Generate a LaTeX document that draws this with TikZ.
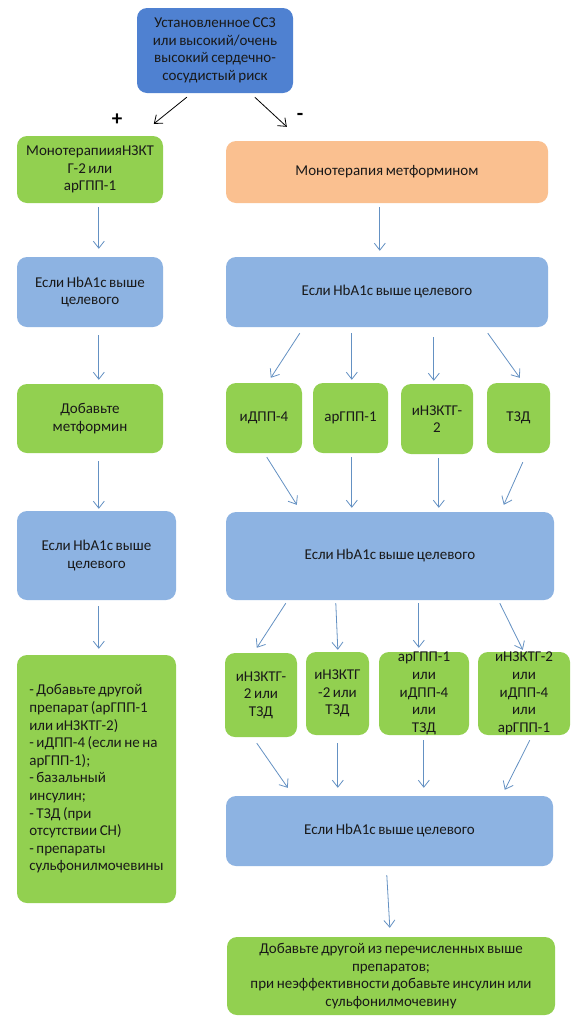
\documentclass[tikz,border=0pt]{standalone}
\usepackage{fontspec}
\setmainfont{Carlito}
\usetikzlibrary{arrows.meta,calc}
\definecolor{topblue}{RGB}{79,129,209}
\definecolor{lgreen}{RGB}{146,208,80}
\definecolor{lorange}{RGB}{250,192,144}
\definecolor{lblue}{RGB}{141,179,226}
\definecolor{arrblue}{RGB}{100,145,195}
\definecolor{txt}{RGB}{25,25,25}
\newcommand\mytightfont{\fontsize{15}{17.6}\selectfont\spaceskip=0.17em plus 0.05em\relax}
\begin{document}
\begin{tikzpicture}[x=1pt,y=1pt,
  bx/.style 2 args={rounded corners=10pt, minimum width=#1pt, minimum height=#2pt,
    inner sep=0pt, align=center, text=txt, font=\mytightfont},
  gbox/.style 2 args={bx={#1}{#2}, fill=lgreen},
  bbox/.style 2 args={bx={#1}{#2}, fill=lblue},
  arr/.style={draw=arrblue, line width=0.8pt, -{Straight Barb[length=7pt,width=11pt]}},
  karr/.style={draw=black, line width=0.8pt, -{Straight Barb[length=7pt,width=11pt]}},
  sign/.style={font=\fontsize{21}{21}\selectfont\bfseries, text=black, inner sep=0pt}
]
\useasboundingbox[fill=white] (0,0) rectangle (585,-1031);

% top
\node[bx={156}{85}, fill=topblue] (top) at (215,-50.5)
  {Установленное ССЗ\\или высокий/очень\\высокий сердечно-\\сосудистый риск};
\node[sign] (plus) at (117,-120) {+};
\node[sign] (minus) at (300,-117) {-};

% left column
\node[gbox={146}{67}] (L1) at (90,-169.5) {МонотерапиияНЗКТ\\Г-2 или\\арГПП-1};
\node[bbox={146}{70}] (L2) at (90,-292) {Если HbA1c выше\\целевого};
\node[gbox={146}{69}] (L3) at (90,-418.5) {Добавьте\\метформин};
\node[bbox={159}{89}] (L4) at (96.5,-555.5) {Если HbA1c выше\\целевого};
\node[gbox={159}{248}, align=left] (L5) at (96.5,-779)
  {- Добавьте другой\\препарат (арГПП-1\\или иНЗКТГ-2)\\- иДПП-4 (если не на\\арГПП-1);\\- базальный\\инсулин;\\- ТЗД (при\\отсутствии СН)\\- препараты\\сульфонилмочевины};

% right column
\node[bx={322}{62}, fill=lorange] (R1) at (387,-172) {Монотерапия метформином};
\node[bbox={322}{70}] (R2) at (387,-292) {Если HbA1c выше целевого};
\node[gbox={76}{70}] (G1) at (264,-418) {иДПП-4};
\node[gbox={75}{70}] (G2) at (350.5,-418) {арГПП-1};
\node[gbox={72}{70}] (G3) at (437,-419) {иНЗКТГ-\\2};
\node[gbox={63}{70}] (G4) at (518.5,-418) {ТЗД};
\node[bbox={328}{88}] (R3) at (390,-556) {Если HbA1c выше целевого};
\node[gbox={72}{84}] (H1) at (261,-695) {иНЗКТГ-\\2 или\\ТЗД};
\node[gbox={63}{83}] (H2) at (337.5,-693.5) {иНЗКТГ\\-2 или\\ТЗД};
\node[gbox={90}{83}] (H3) at (424,-693.5) {арГПП-1\\или\\иДПП-4\\или\\ТЗД};
\node[gbox={92}{83}] (H4) at (524,-693.5) {иНЗКТГ-2\\или\\иДПП-4\\или\\арГПП-1};
\node[bbox={327}{70}] (R4) at (389.5,-831) {Если HbA1c выше целевого};
\node[gbox={328}{78}] (F) at (391,-976)
  {Добавьте другой из перечисленных выше\\препаратов;\\при неэффективности добавьте инсулин или\\сульфонилмочевину};

% connectors
\draw[karr] ($(top.south west)+(50,-4)$) -- ($(L1.north west)+(137,12)$);
\draw[karr] ($(top.south west)+(118,-4)$) -- ($(R1.north west)+(61,14)$);

\draw[arr] ($(L1.south west)+(82,-4)$) -- ($(L2.north west)+(82,8)$);
\draw[arr] ($(L2.south west)+(82,-8)$) -- ($(L3.north west)+(82,4)$);
\draw[arr] ($(L3.south west)+(82,-8)$) -- ($(L4.north west)+(82,2)$);
\draw[arr] ($(L4.south west)+(82,-6)$) -- ($(L5.north west)+(82,6)$);

\draw[arr] ($(R1.south west)+(154,-4)$) -- ($(R2.north west)+(154,6)$);
\draw[arr] ($(R2.south west)+(74,-6)$) -- ($(G1.north west)+(45,5)$);
\draw[arr] ($(R2.south west)+(126,-6)$) -- ($(G2.north west)+(39,3)$);
\draw[arr] ($(R2.south west)+(208,-10)$) -- ($(G3.north west)+(33,3)$);
\draw[arr] ($(R2.south west)+(262,-6)$) -- ($(G4.north west)+(33,5)$);

\draw[arr] ($(G1.south west)+(41,-4)$) -- ($(R3.north west)+(71,7)$);
\draw[arr] ($(G2.south west)+(39,-4)$) -- ($(R3.north west)+(126,4)$);
\draw[arr] ($(G3.south west)+(38,-4)$) -- ($(R3.north west)+(213,4)$);
\draw[arr] ($(G4.south west)+(36,-9)$) -- ($(R3.north west)+(278,7)$);

\draw[arr] ($(R3.south west)+(60,-3)$) -- ($(H1.north west)+(32,5)$);
\draw[arr] ($(R3.south west)+(110,-3)$) -- ($(H2.north west)+(32,2)$);
\draw[arr] ($(R3.south west)+(193,-3)$) -- ($(H3.north west)+(40,4)$);
\draw[arr] ($(R3.south west)+(274,-3)$) -- ($(H4.north west)+(45,2)$);

\draw[arr] ($(H1.south west)+(32,-6)$) -- ($(R4.north west)+(62,8)$);
\draw[arr] ($(H2.south west)+(32,-8)$) -- ($(R4.north west)+(112,8)$);
\draw[arr] ($(H3.south west)+(45,-5)$) -- ($(R4.north west)+(198,8)$);
\draw[arr] ($(H4.south west)+(52,-5)$) -- ($(R4.north west)+(279,6)$);

\draw[arr] ($(R4.south west)+(161,-9)$) -- ($(F.north west)+(163,9)$);
\end{tikzpicture}
\end{document}
